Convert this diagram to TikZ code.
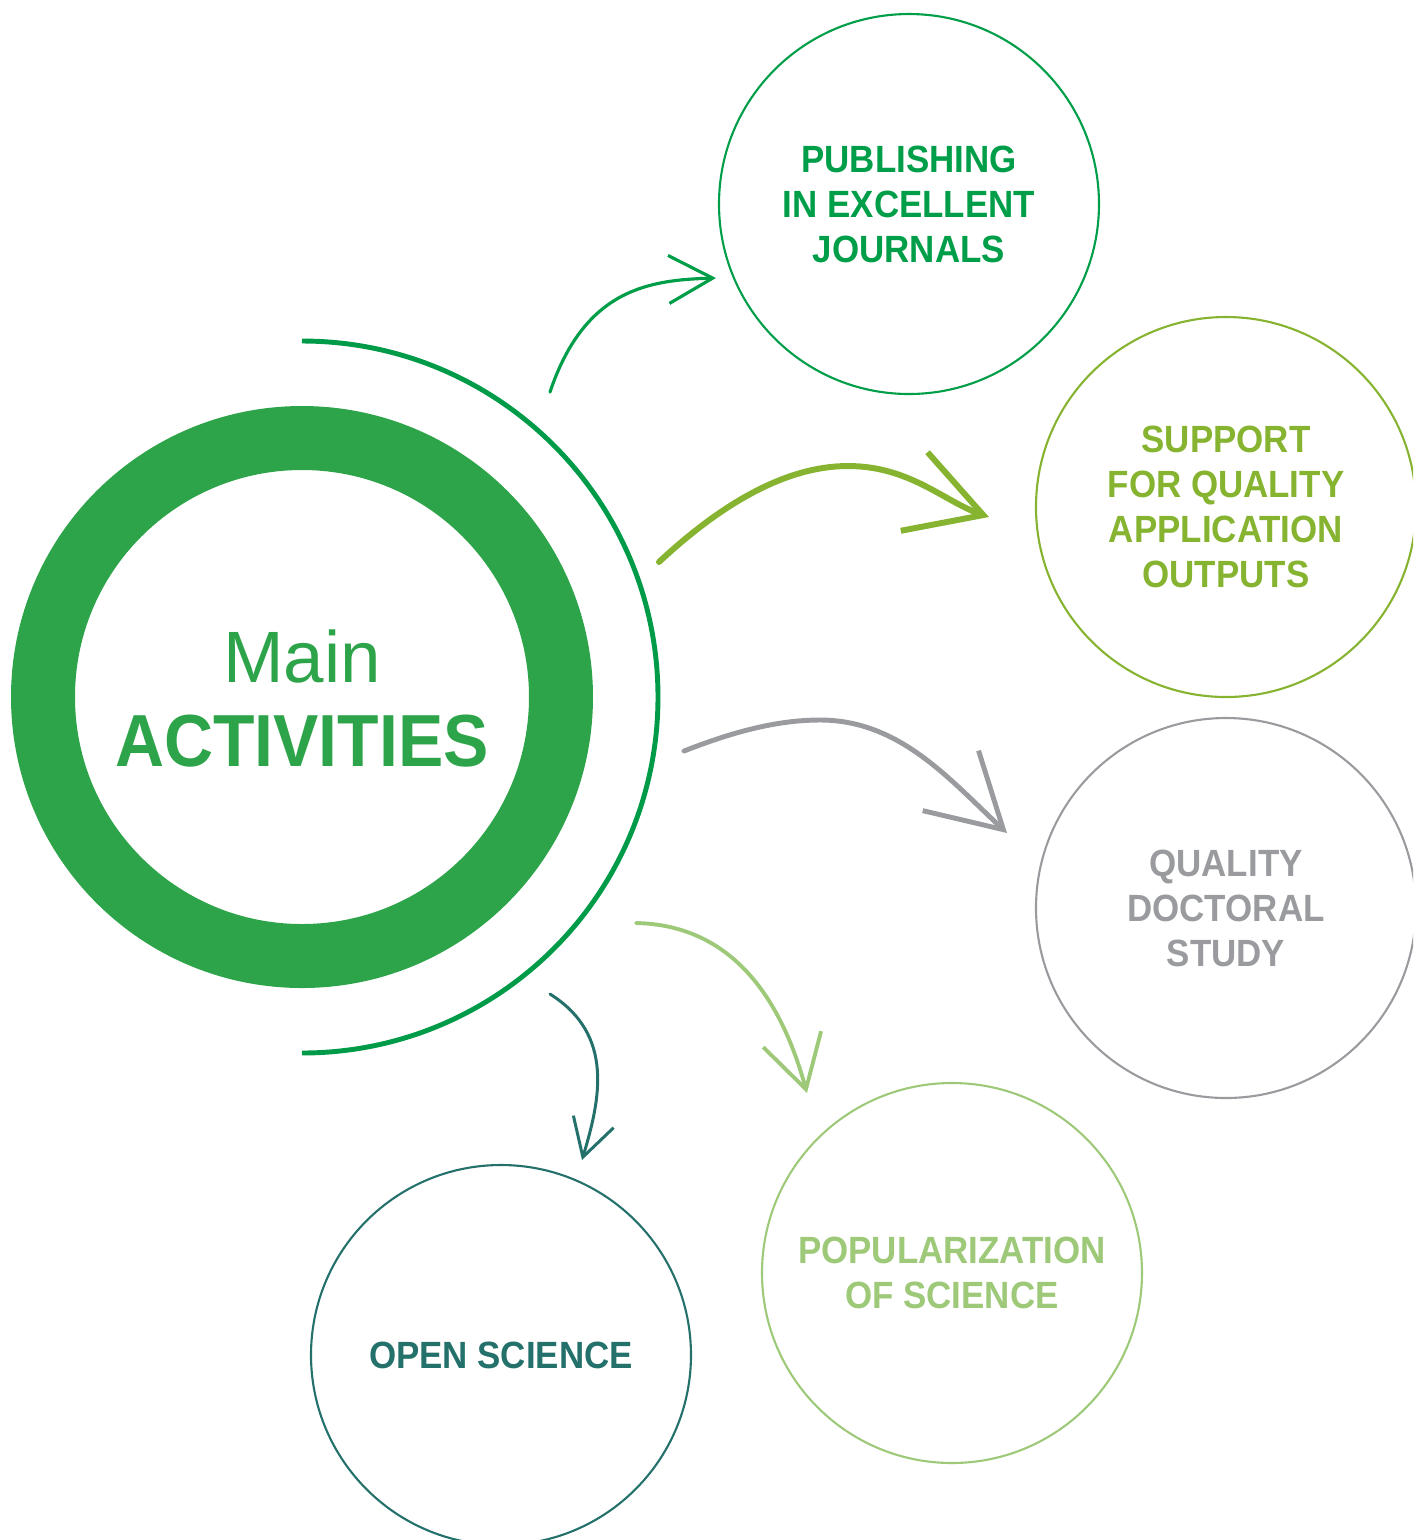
\documentclass[tikz,border=0pt]{standalone}
\usepackage{fontspec}
\setmainfont{Liberation Sans}
\newfontfamily\labelfont[FakeStretch=0.92]{Liberation Sans}
\usetikzlibrary{arrows.meta}

\definecolor{HubGreen}{RGB}{46,164,74}
\definecolor{ArcGreen}{RGB}{0,155,72}
\definecolor{PubGreen}{RGB}{0,158,72}
\definecolor{SuppGreen}{RGB}{134,179,48}
\definecolor{QualGray}{RGB}{153,155,158}
\definecolor{PopuGreen}{RGB}{157,201,121}
\definecolor{OpenTeal}{RGB}{36,113,107}

\tikzset{
    bubble/.style={circle, draw, line width=0.6pt, minimum size=3.8cm, inner sep=0pt,
        align=center, font=\labelfont\bfseries\fontsize{10.8}{12.8}\selectfont},
}

\begin{document}
\begin{tikzpicture}
        \useasboundingbox (0,0) rectangle (14.13,-15.40);
        \clip (0,0) rectangle (14.13,-15.40);

        % central ring and its outer arc
        \node[circle, draw=HubGreen, line width=0.64cm, minimum size=5.18cm, inner sep=0pt] (hub) at (3.02,-6.97) {};
        \draw[ArcGreen, line width=1.4pt] (hub.center) ++(0,3.56) arc[start angle=90, end angle=-90, radius=3.56];

        \node[anchor=base, text=HubGreen, font=\fontsize{20.7}{24}\selectfont] (mainlbl) at (3.02,-6.82) {Main};
        \node[anchor=base, text=HubGreen, font=\labelfont\bfseries\fontsize{21}{24}\selectfont] (actlbl) at (3.02,-7.66) {ACTIVITIES};

        % activities
        \node[bubble, draw=PubGreen, text=PubGreen] (pub) at (9.09,-2.04) {PUBLISHING\\IN EXCELLENT\\JOURNALS};
        \node[bubble, draw=SuppGreen, text=SuppGreen] (supp) at (12.26,-5.07) {SUPPORT\\FOR QUALITY\\APPLICATION\\OUTPUTS};
        \node[bubble, draw=QualGray, text=QualGray] (qual) at (12.26,-9.08) {QUALITY\\DOCTORAL\\STUDY};
        \node[bubble, draw=PopuGreen, text=PopuGreen] (popu) at (9.52,-12.73) {POPULARIZATION\\OF SCIENCE};
        \node[bubble, draw=OpenTeal, text=OpenTeal] (open) at (5.01,-13.55) {OPEN SCIENCE};

        % arrow ends
        \coordinate (pubfrom) at (5.50,-3.92);
        \coordinate (pubto) at (7.16,-2.78);
        \coordinate (suppfrom) at (6.59,-5.62);
        \coordinate (suppto) at (9.89,-5.17);
        \coordinate (qualfrom) at (6.84,-7.51);
        \coordinate (qualto) at (10.07,-8.33);
        \coordinate (popufrom) at (6.36,-9.23);
        \coordinate (poputo) at (8.07,-10.93);
        \coordinate (openfrom) at (5.50,-9.94);
        \coordinate (opento) at (5.82,-11.60);

        \draw[PubGreen, line width=0.9pt, line cap=round, -{Straight Barb[length=0.44cm, width=0.48cm]}]
            (pubfrom) .. controls (5.85,-2.88) and (6.50,-2.80) .. (pubto);
        \draw[SuppGreen, line width=1.7pt, line cap=round, -{Straight Barb[length=0.73cm, width=0.83cm]}]
            (suppfrom) .. controls (7.20,-5.05) and (7.85,-4.66) .. (8.48,-4.66)
            .. controls (9.10,-4.66) and (9.45,-5.02) .. (suppto);
        \draw[QualGray, line width=1.4pt, line cap=round, -{Straight Barb[length=0.72cm, width=0.82cm]}]
            (qualfrom) .. controls (7.30,-7.33) and (7.75,-7.20) .. (8.20,-7.20)
            .. controls (9.00,-7.20) and (9.50,-7.80) .. (qualto);
        \draw[PopuGreen, line width=1.1pt, line cap=round, -{Straight Barb[length=0.52cm, width=0.60cm]}]
            (popufrom) .. controls (7.30,-9.25) and (7.80,-9.95) .. (poputo);
        \draw[OpenTeal, line width=0.85pt, line cap=round, -{Straight Barb[length=0.37cm, width=0.42cm]}]
            (openfrom) .. controls (6.15,-10.35) and (6.00,-11.00) .. (opento);

    \end{tikzpicture}
\end{document}
